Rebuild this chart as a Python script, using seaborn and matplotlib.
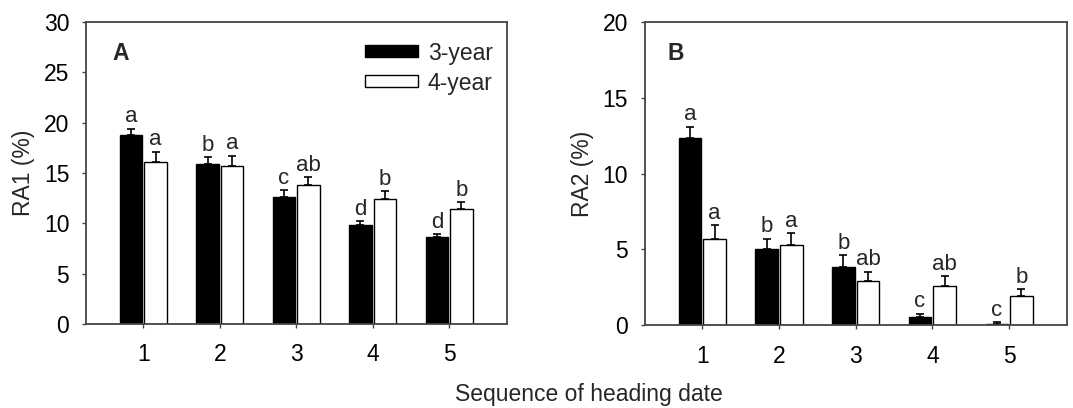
import seaborn as sns
import matplotlib.pyplot as plt
import numpy as np
import pandas as pd

sequence = ['1', '2', '3', '4', '5']
groups = ['3-year', '4-year']

ra1_3yr = [18.8, 15.9, 12.6, 9.8, 8.6]
ra1_4yr = [16.1, 15.7, 13.8, 12.4, 11.4]
ra1_3yr_se = [0.6, 0.7, 0.7, 0.4, 0.3]
ra1_4yr_se = [1.0, 1.0, 0.8, 0.8, 0.7]
ra1_3yr_letters = ['a', 'b', 'c', 'd', 'd']
ra1_4yr_letters = ['a', 'a', 'ab', 'b', 'b']

ra2_3yr = [12.35, 5.0, 3.85, 0.57, 0.11]
ra2_4yr = [5.67, 5.28, 2.9, 2.6, 1.9]
ra2_3yr_se = [0.75, 0.7, 0.75, 0.2, 0.07]
ra2_4yr_se = [0.93, 0.79, 0.63, 0.62, 0.49]
ra2_3yr_letters = ['a', 'b', 'b', 'c', 'c']
ra2_4yr_letters = ['a', 'a', 'ab', 'ab', 'b']

sns.set_style('ticks')
plt.rcParams['font.family'] = ['Liberation Sans', 'DejaVu Sans']
plt.rcParams['axes.edgecolor'] = '#444444'
plt.rcParams['xtick.color'] = '#444444'
plt.rcParams['ytick.color'] = '#444444'
plt.rcParams['xtick.labelcolor'] = 'black'
plt.rcParams['ytick.labelcolor'] = 'black'

fs = 16.5

fig = plt.figure(figsize=(10.73, 4.08), dpi=100)
axA = fig.add_axes([0.0801, 0.206, 0.392, 0.740])
axB = fig.add_axes([0.601, 0.203, 0.393, 0.743])


def panel(ax, v3, v4, e3, e4, l3, l4, ymax, step, ylabel, tag, tagx, legend):
    df = pd.DataFrame({
        'seq': sequence * 2,
        'value': v3 + v4,
        'group': [groups[0]] * 5 + [groups[1]] * 5,
    })
    sns.barplot(data=df, x='seq', y='value', hue='group', ax=ax,
                palette=['black', 'white'], edgecolor='black', linewidth=1,
                width=0.64, gap=0.08, errorbar=None, legend=legend)
    for cont, err, lett in zip(ax.containers, [e3, e4], [l3, l4]):
        xs = [p.get_x() + p.get_width() / 2 for p in cont]
        hs = [p.get_height() for p in cont]
        ax.errorbar(xs, hs, yerr=[np.zeros(len(err)), err], fmt='none',
                    ecolor='black', elinewidth=1.2, capsize=3, capthick=1.2)
        for x, h, e, t in zip(xs, hs, err, lett):
            ax.annotate(t, (x, h + e), xytext=(0, 1), textcoords='offset points',
                        ha='center', va='bottom', fontsize=16)
    ax.set_xlim(-0.75, 4.75)
    ax.set_ylim(0, ymax)
    ax.set_yticks(np.arange(0, ymax + 1, step))
    ax.set_xlabel('')
    ax.set_ylabel(ylabel, fontsize=fs, labelpad=6)
    ax.tick_params(axis='both', labelsize=fs, length=3, width=1)
    ax.tick_params(axis='x', pad=11)
    ax.tick_params(axis='y', pad=9)
    for s in ax.spines.values():
        s.set_linewidth(1.3)
    ax.text(tagx, 0.895, tag, transform=ax.transAxes,
            fontsize=fs, fontweight='bold', ha='center', va='center')


panel(axA, ra1_3yr, ra1_4yr, ra1_3yr_se, ra1_4yr_se, ra1_3yr_letters, ra1_4yr_letters,
      30, 5, 'RA1 (%)', 'A', 0.082, True)
panel(axB, ra2_3yr, ra2_4yr, ra2_3yr_se, ra2_4yr_se, ra2_3yr_letters, ra2_4yr_letters,
      20, 5, 'RA2 (%)', 'B', 0.073, False)

axA.legend(loc='upper left', bbox_to_anchor=(0.663, 0.935), frameon=False,
           fontsize=fs, handlelength=2.3, handleheight=0.43, labelspacing=0.3,
           handletextpad=0.45, borderpad=0, borderaxespad=0)

fig.text(0.549, 0.034, 'Sequence of heading date', ha='center', va='center', fontsize=fs)

fig.savefig('out.png', dpi=100)
